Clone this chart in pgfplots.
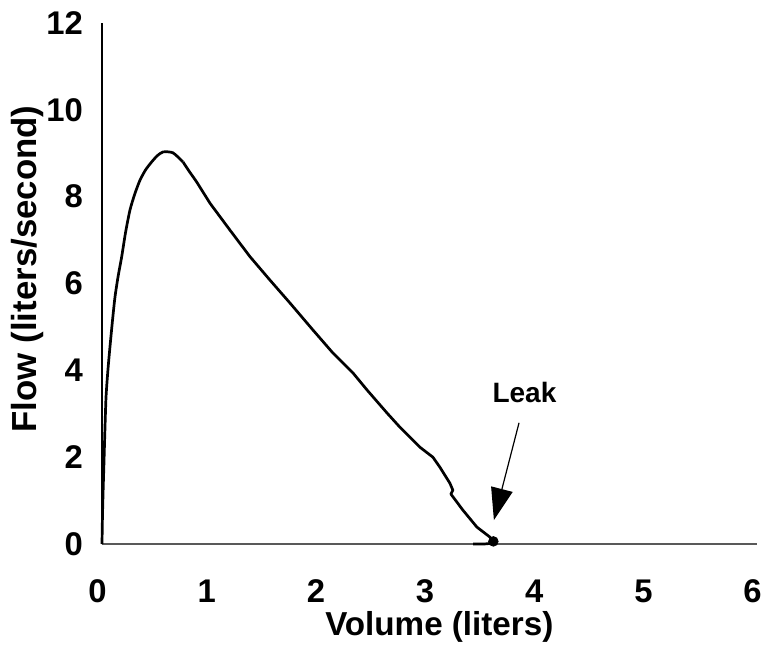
\documentclass[border=0pt]{standalone}
\usepackage{pgfplots}
\pgfplotsset{compat=1.18}
\usepackage{fontspec}
\setmainfont{Liberation Sans}
\usetikzlibrary{arrows.meta}

\begin{document}
\begin{tikzpicture}
\useasboundingbox (-51pt,-51.5pt) rectangle (331pt,272pt);
\begin{axis}[
    at={(0,0)}, anchor=south west,
    scale only axis,
    width=327.5pt, height=260.5pt,
    xmin=0, xmax=6, ymin=0, ymax=12,
    axis x line*=bottom, axis y line*=left,
    x axis line style={-, draw=black!65, line width=0.8pt},
    y axis line style={-, draw=black, line width=0.6pt},
    xtick={0,1,...,6}, ytick={0,2,...,12},
    major tick length=0pt,
    tick label style={font=\fontsize{16.4}{16.4}\selectfont\bfseries},
    /pgf/number format/assume math mode=true,
    xticklabel style={anchor=base, yshift=-29pt, xshift=-2.2pt},
    yticklabel style={anchor=east, xshift=-6pt},
    xlabel={Volume (liters)},
    ylabel={Flow (liters/second)},
    x label style={font=\fontsize{16.6}{16.6}\selectfont\bfseries,
        at={(axis description cs:0.515,0)}, anchor=center, yshift=-41.5pt},
    y label style={font=\fontsize{17.4}{17.4}\selectfont\bfseries,
        at={(axis description cs:-0.113,0.528)}, anchor=center},
    clip=false,
]
% rising limb (smooth)
\addplot[black, line width=1.35pt, line join=round, smooth, tension=0.4] coordinates {
    (0.000,0.00) (0.004,0.60) (0.010,1.20) (0.018,1.87) (0.027,2.65)
    (0.037,3.39) (0.054,4.00) (0.073,4.54) (0.095,5.12) (0.119,5.69)
    (0.148,6.17) (0.180,6.61) (0.216,7.18) (0.256,7.69) (0.300,8.06)
    (0.348,8.38) (0.400,8.62) (0.455,8.80) (0.505,8.94) (0.559,9.03)
    (0.650,9.01) (0.742,8.80)
};
% falling limb
\addplot[black, line width=1.35pt, line join=round] coordinates {
    (0.742,8.80) (0.800,8.58) (0.867,8.34) (0.989,7.85)
    (1.172,7.23) (1.355,6.62) (1.538,6.08) (1.722,5.55) (1.932,4.93)
    (2.115,4.40) (2.299,3.94) (2.427,3.55) (2.610,3.02) (2.729,2.69)
    (2.912,2.23) (3.031,2.00) (3.095,1.77) (3.187,1.40) (3.214,1.24)
    (3.196,1.15) (3.306,0.78) (3.434,0.39) (3.553,0.16) (3.581,0.09)
    (3.590,0.02) (3.500,0.00) (3.400,0.00)
};
\addplot[only marks, mark=*, mark size=2.4pt, black] coordinates {(3.585,0.06)};
\node[font=\fontsize{14}{14}\selectfont\bfseries] at (axis cs:3.87,3.48) {Leak};
\draw[line width=0.6pt, -{Triangle[length=16pt,width=11pt]}]
    (axis cs:3.82,2.79) -- (axis cs:3.59,0.55);
\end{axis}
\end{tikzpicture}
\end{document}
